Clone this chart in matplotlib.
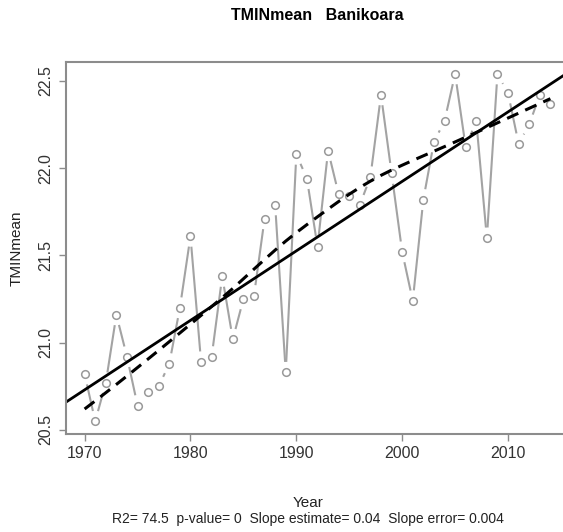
import numpy as np
import matplotlib.pyplot as plt

years = np.arange(1970, 2015)
tmin = np.array([
    20.82, 20.55, 20.77, 21.16, 20.92, 20.64, 20.72, 20.75, 20.88, 21.20,
    21.61, 20.89, 20.92, 21.38, 21.02, 21.25, 21.27, 21.71, 21.79, 20.83,
    22.08, 21.94, 21.55, 22.10, 21.85, 21.84, 21.79, 21.95, 22.42, 21.97,
    21.52, 21.24, 21.82, 22.15, 22.27, 22.54, 22.12, 22.27, 21.60, 22.54,
    22.43, 22.14, 22.25, 22.42, 22.37,
])
title = "TMINmean   Banikoara"
subtitle = "R2= 74.5  p-value= 0  Slope estimate= 0.04  Slope error= 0.004"


def lowess(x, y, f=2/3, iters=3):
    # classic Cleveland lowess, tricube weights + bisquare robustness
    n = len(x)
    r = int(np.ceil(f * n))
    fit = np.zeros(n)
    rob = np.ones(n)
    for _ in range(iters + 1):
        for i in range(n):
            d = np.abs(x - x[i])
            h = np.sort(d)[r - 1]
            w = np.clip(d / h, 0, 1)
            w = (1 - w ** 3) ** 3 * rob
            W = np.sum(w)
            xm = np.sum(w * x) / W
            ym = np.sum(w * y) / W
            sxx = np.sum(w * (x - xm) ** 2)
            b = np.sum(w * (x - xm) * (y - ym)) / sxx if sxx > 0 else 0
            fit[i] = ym + b * (x[i] - xm)
        res = y - fit
        s = np.median(np.abs(res))
        u = np.clip(res / (6 * s), -1, 1)
        rob = (1 - u ** 2) ** 2
    return fit


plt.rcParams['font.family'] = ['Liberation Sans', 'DejaVu Sans']

fig = plt.figure(figsize=(5.63, 5.32), dpi=100)
ax = fig.add_axes([66 / 563, 98 / 532, 503 / 563, 372 / 532])
ax.set_xlim(1968.24, 2015.76)
ax.set_ylim(20.477, 22.608)

grey = '#a3a3a3'

# R-style type="b": segments stop short of each point
gap = 10.5
pts = ax.transData.transform(np.column_stack([years, tmin]))
for p, q in zip(pts[:-1], pts[1:]):
    v = q - p
    L = np.hypot(*v)
    if L <= 2 * gap:
        continue
    u = v / L
    seg = ax.transData.inverted().transform(np.array([p + u * gap, q - u * gap]))
    ax.plot(seg[:, 0], seg[:, 1], color=grey, lw=1.5, solid_capstyle='butt')
ax.plot(years, tmin, 'o', ms=5.5, mfc='none', mec='#999999', mew=1.1)

# linear trend across the full axis
slope, intercept = np.polyfit(years, tmin, 1)
xx = np.array(ax.get_xlim())
ax.plot(xx, intercept + slope * xx, color='black', lw=2.0)

# smoothed curve
smooth = lowess(years.astype(float), tmin)
ax.plot(years, smooth, color='black', lw=2.2, ls=(0, (4, 2.5)))

for s in ax.spines.values():
    s.set_color('#8c8c8c')
    s.set_linewidth(1.5)
ax.set_xticks([1970, 1980, 1990, 2000, 2010])
ax.set_yticks([20.5, 21.0, 21.5, 22.0, 22.5])
ax.set_yticklabels(['20.5', '21.0', '21.5', '22.0', '22.5'], rotation=90, va='center')
ax.tick_params(length=5, width=1, color='#8c8c8c', labelsize=11.5, labelcolor='#333333', pad=4)

ax.set_ylabel('TMINmean', fontsize=11, color='#222222', labelpad=11)
fig.text(308 / 563, 1 - 503 / 532, 'Year', ha='center', va='center',
         fontsize=11, color='#222222')
fig.text(317 / 563, 1 - 16 / 532, title, ha='center', va='center',
         fontsize=11.5, fontweight='bold')
fig.text(308 / 563, 1 - 519 / 532, subtitle, ha='center', va='center',
         fontsize=10, color='#222222')

fig.savefig('out.png', dpi=100)
